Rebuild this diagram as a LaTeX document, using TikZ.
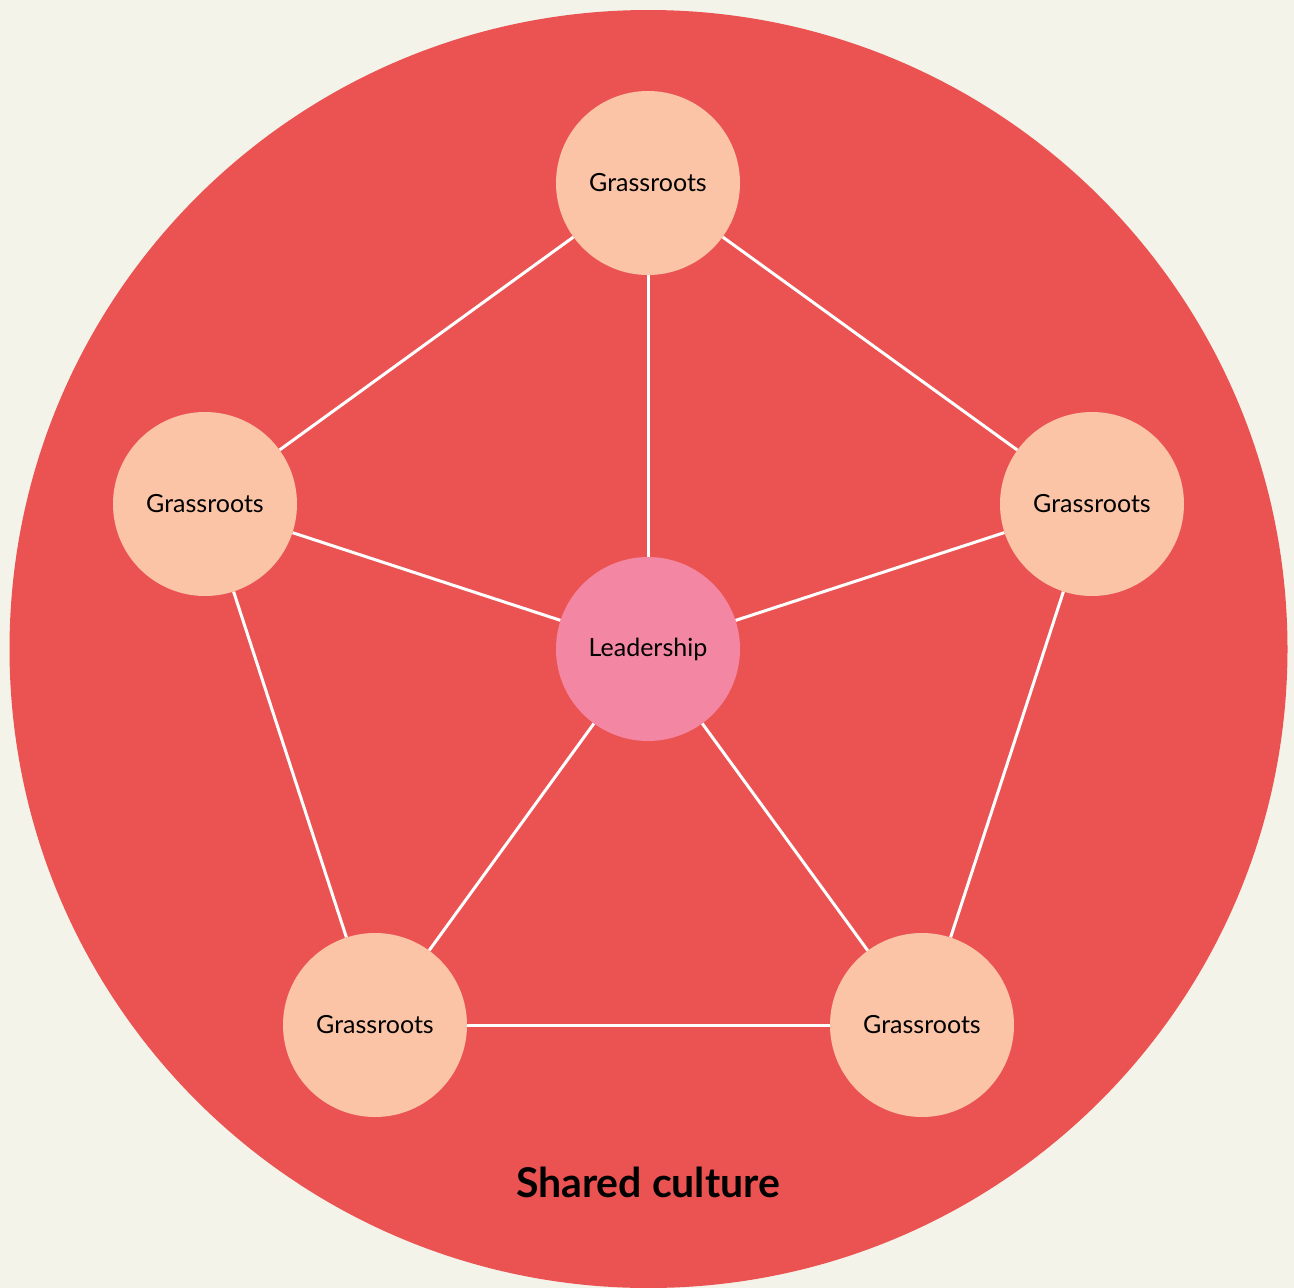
\documentclass[tikz,border=0pt]{standalone}
\usepackage{fontspec}
\setmainfont{Lato}
\definecolor{cream}{HTML}{F4F3EA}
\definecolor{culture}{HTML}{EB5353}
\definecolor{peach}{HTML}{FBC4A6}
\definecolor{rose}{HTML}{F386A3}

\begin{document}
\begin{tikzpicture}[x=1pt,y=-1pt,
    blob/.style={circle,minimum size=184pt,inner sep=0pt,
      font=\fontsize{25}{30}\selectfont},
    grass/.style={blob,fill=peach},
    lead/.style={blob,fill=rose},
    tie/.style={white,line width=3pt}]
    \fill[cream] (0,0) rectangle (1294,1288);
    \fill[culture] (648.5,649) circle (639);

    \node[lead]  (ld) at (648,649)  {Leadership};
    \node[grass] (g1) at (648,183)  {Grassroots};
    \node[grass] (g2) at (1092,504) {Grassroots};
    \node[grass] (g3) at (922,1025) {Grassroots};
    \node[grass] (g4) at (375,1025) {Grassroots};
    \node[grass] (g5) at (205,504)  {Grassroots};

    \node[font=\fontsize{41}{48}\selectfont\bfseries] (sc) at (648,1182) {Shared culture};

    \foreach \g in {g1,g2,g3,g4,g5}
      \draw[tie] (ld) -- (\g);
    \draw[tie] (g1) -- (g2);
    \draw[tie] (g2) -- (g3);
    \draw[tie] (g3) -- (g4);
    \draw[tie] (g4) -- (g5);
    \draw[tie] (g5) -- (g1);
\end{tikzpicture}
\end{document}
